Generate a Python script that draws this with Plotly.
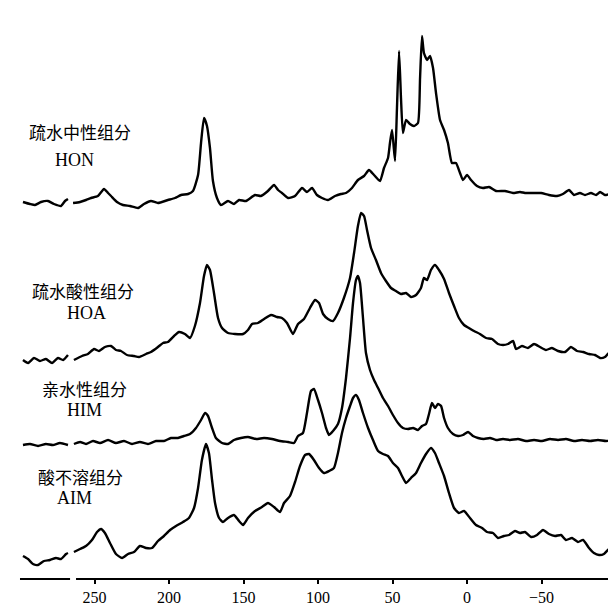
import plotly.graph_objects as go

# ---------------- data (chemical shift δ in ppm, intensity above own baseline) -------------
hon_ppm = [298.0, 293.3, 289.9, 285.9, 281.2, 277.2, 272.5, 269.8, 267.8,
           264.4, 259.7, 255.7, 252.3, 247.7, 243.6, 240.9, 238.9, 234.9, 230.9, 226.2, 220.8,
           216.8, 212.1, 207.4, 200.7, 196.0, 191.9, 187.2, 183.9, 180.5, 178.5, 176.5, 174.5,
           172.5, 170.5, 167.8, 165.1, 160.4, 156.4, 153.0, 148.3, 142.3, 138.3, 133.6, 129.5,
           126.8, 124.2, 120.1, 115.4, 110.7, 107.4, 104.0, 100.7, 97.3, 93.3, 88.6, 84.6, 81.2,
           77.2, 73.2, 69.1, 65.8, 62.4, 58.4, 55.7, 53.0, 51.7, 50.3, 48.3, 47.0, 45.6, 44.3,
           43.0, 40.9, 38.3, 35.6, 32.9, 31.5, 30.2, 28.9, 26.8, 24.8, 22.8, 20.8, 18.1, 15.4,
           12.8, 10.1, 7.4, 4.7, 2.7, 0.0, -2.7, -6.7, -10.7, -14.8, -19.5, -25.5, -30.9, -35.6,
           -38.9, -44.3, -49.7, -55.0, -60.4, -64.4, -68.5, -71.8, -75.8, -79.2, -83.2, -86.6,
           -89.3, -92.6, -96.0, -98.7]
hon_int = [1, -1, -2, 1, 2, -1, -3, 2, 4,
           0, 1, 3, 5, 7, 14, 10, 7, 1, -2, -3, -5,
           -1, 2, 0, 3, 5, 8, 9, 12, 28, 60, 85, 77,
           55, 22, 5, -2, 2, -1, 3, 2, 8, 7, 12, 18,
           13, 10, 5, 7, 15, 11, 15, 8, 5, 3, 7, 9, 10,
           15, 23, 27, 33, 28, 22, 35, 45, 60, 73, 42, 95, 152, 105,
           70, 83, 79, 77, 80, 125, 167, 150, 143, 147, 135, 110, 83, 73,
           60, 40, 40, 30, 23, 28, 23, 17, 15, 16, 12, 12, 10, 11,
           10, 10, 10, 8, 7, 9, 13, 8, 10, 8, 10, 8,
           11, 8, 9, 9]

hoa_ppm = [298.0, 294.6, 290.6, 286.6, 282.6, 278.5, 274.5, 271.1, 267.8,
           263.8, 258.4, 254.4, 250.3, 247.0, 243.0, 238.9, 235.6, 232.2, 228.2, 223.5, 220.1,
           215.4, 212.1, 207.4, 204.0, 200.7, 196.6, 193.3, 189.3, 185.9, 182.6, 179.2, 176.5,
           174.5, 172.5, 169.8, 167.1, 164.4, 160.4, 155.7, 150.3, 147.0, 144.3, 140.3, 136.2,
           131.5, 127.5, 124.2, 120.8, 116.8, 113.4, 109.4, 105.4, 102.0, 99.3, 96.6, 93.3,
           89.9, 86.6, 82.6, 78.5, 75.8, 73.2, 71.1, 69.1, 67.1, 64.4, 61.1, 57.7, 54.4, 51.0,
           47.7, 44.3, 40.9, 37.6, 34.2, 30.9, 28.9, 26.8, 24.2, 21.5, 18.8, 15.4, 12.1, 8.7,
           5.4, 2.0, -1.3, -4.7, -8.7, -12.8, -16.8, -20.8, -24.2, -27.5, -30.9, -32.9, -36.9,
           -40.9, -45.0, -49.0, -53.0, -57.0, -61.1, -65.8, -69.8, -73.8, -77.9, -81.9, -85.9,
           -89.3, -92.6, -95.3, -98.7]
hoa_int = [-2, -5, 0, -3, -1, -5, 0, -2, 3,
           -2, 2, 4, 9, 7, 11, 12, 8, 7, 3, 2, 1,
           4, 6, 11, 15, 16, 22, 26, 24, 20, 32, 55, 82,
           93, 88, 65, 40, 30, 25, 24, 24, 28, 34, 35, 39,
           43, 41, 40, 35, 24, 34, 39, 50, 58, 55, 44, 39,
           37, 45, 60, 80, 105, 132, 145, 142, 128, 110, 98, 85, 77, 70,
           67, 64, 65, 61, 63, 70, 80, 78, 88, 93, 88, 79, 65, 52,
           40, 33, 30, 27, 24, 20, 19, 14, 13, 14, 17, 9, 12,
           10, 14, 11, 8, 10, 7, 6, 11, 7, 6, 4, 3,
           0, 1, 5, 3]

him_ppm = [298.0, 293.3, 287.9, 282.6, 277.9, 273.2, 267.8,
           263.8, 259.7, 255.7, 251.0, 246.3, 240.9, 235.6, 230.2, 224.8, 219.5, 214.1, 208.7,
           203.4, 198.7, 194.0, 190.0, 185.9, 181.9, 178.5, 175.8, 173.8, 171.1, 168.5, 164.4,
           160.4, 156.4, 151.7, 147.0, 141.6, 136.2, 130.9, 125.5, 120.1, 116.1, 113.4, 110.1,
           107.4, 104.7, 102.7, 100.0, 97.3, 94.6, 92.6, 89.9, 86.6, 83.9, 81.2, 78.5, 76.5,
           74.5, 73.2, 71.8, 69.8, 67.8, 65.1, 62.4, 59.7, 56.4, 53.0, 49.7, 46.3, 43.0, 39.6,
           36.2, 32.9, 30.2, 27.5, 25.5, 23.5, 21.5, 19.5, 17.4, 15.4, 12.8, 9.4, 6.0, 2.7,
           -0.7, -4.0, -7.4, -11.4, -15.4, -19.5, -24.2, -28.9, -34.2, -39.6, -45.0, -50.3,
           -55.7, -61.1, -66.4, -71.8, -77.2, -82.6, -87.9, -93.3, -98.7]
him_int = [0, 1, -1, 1, 0, 2, 0,
           1, 3, 1, 4, 2, 5, 2, 4, 1, 3, 1, 4,
           4, 7, 7, 9, 11, 17, 25, 32, 29, 17, 7, 2,
           1, 5, 7, 8, 6, 7, 6, 4, 3, 2, 9, 12,
           32, 54, 56, 45, 32, 17, 10, 14, 21, 37, 67, 107, 142,
           165, 169, 162, 127, 92, 75, 65, 57, 47, 39, 30, 22, 17, 16,
           17, 15, 19, 21, 31, 42, 37, 41, 39, 27, 17, 11, 9, 10,
           13, 9, 7, 6, 7, 5, 6, 5, 6, 4, 5, 4,
           6, 5, 6, 4, 5, 4, 5, 4, 5]

aim_ppm = [298.0, 294.6, 291.3, 287.9, 283.9, 279.9, 275.8, 272.5, 269.1, 267.8,
           263.8, 259.7, 255.7, 251.7, 248.3, 245.6, 243.0, 239.6, 235.6, 231.5, 227.5, 223.5,
           219.5, 215.4, 211.4, 207.4, 203.4, 199.3, 195.3, 190.6, 186.6, 183.2, 180.5, 177.9,
           175.2, 173.2, 171.1, 169.1, 166.4, 163.8, 160.4, 156.4, 153.0, 150.3, 147.0, 142.3,
           137.6, 133.6, 129.5, 125.5, 122.8, 118.8, 115.4, 112.1, 108.7, 106.0, 102.7, 99.3,
           96.0, 92.6, 89.3, 86.6, 83.9, 81.2, 78.5, 76.5, 74.5, 72.5, 69.8, 66.4, 63.1, 59.7,
           56.4, 53.0, 49.7, 46.3, 43.6, 40.9, 37.6, 34.2, 30.9, 27.5, 24.2, 21.5, 18.8, 15.4,
           12.1, 8.7, 5.4, 2.0, -2.0, -6.0, -10.1, -13.4, -17.4, -20.8, -24.8, -28.2, -32.2,
           -35.6, -38.9, -43.0, -47.0, -51.0, -55.0, -59.1, -63.1, -66.4, -70.5, -74.5, -77.9,
           -81.9, -85.2, -88.6, -91.9, -95.3, -98.7]
aim_int = [2, -1, -6, -7, -3, -2, 0, -1, 4, 5,
           6, 9, 12, 18, 26, 29, 25, 15, 4, 0, 4, 6,
           12, 10, 10, 17, 22, 28, 32, 36, 40, 50, 70, 98,
           114, 105, 78, 55, 40, 36, 40, 43, 37, 33, 40, 47,
           51, 55, 51, 46, 55, 62, 76, 92, 103, 104, 98, 90,
           85, 87, 90, 105, 125, 140, 152, 160, 163, 158, 145, 130, 118, 107,
           104, 102, 95, 90, 82, 75, 80, 85, 95, 104, 110, 105, 95, 82,
           65, 50, 45, 47, 40, 33, 30, 26, 25, 20, 22, 23, 27,
           25, 26, 21, 23, 28, 24, 22, 23, 18, 20, 16, 18,
           10, 5, 3, 4, 9, 9]

fractions = ["HON", "HOA", "HIM", "AIM"]
names_cn = ["疏水中性组分", "疏水酸性组分", "亲水性组分", "酸不溶组分"]
tick_vals = [250, 200, 150, 100, 50, 0, -50]
tick_text = ["250", "200", "150", "100", "50", "0", "−50"]

# ---------------- layout constants ----------------
offsets = {"HON": 376, "HOA": 221, "HIM": 134, "AIM": 21}
BREAK_HI, BREAK_LO = 266.4, 262.4   # axis break on the δ scale


def with_break(ppm, vals):
    xs, ys = [], []
    for i, (p, v) in enumerate(zip(ppm, vals)):
        if i > 0 and ppm[i - 1] > BREAK_HI - 1 and p < BREAK_HI - 1:
            xs.append(None)
            ys.append(None)
        xs.append(p)
        ys.append(v)
    return xs, ys


series = {"HON": (hon_ppm, hon_int), "HOA": (hoa_ppm, hoa_int),
          "HIM": (him_ppm, him_int), "AIM": (aim_ppm, aim_int)}

fig = go.Figure()
for key in fractions:
    p, v = series[key]
    xs, ys = with_break(p, v)
    ys = [None if y is None else y + offsets[key] for y in ys]
    fig.add_trace(go.Scatter(x=xs, y=ys, mode="lines", connectgaps=False,
                             line=dict(color="black", width=2.4, shape="spline",
                                       smoothing=0.5),
                             showlegend=False, hoverinfo="skip"))

# labels (x in ppm, y in plot units)
label_pos = {"HON": (259.7, 448, 263.1, 419), "HOA": (257.7, 289, 255.7, 266),
             "HIM": (256.4, 191, 256.4, 169), "AIM": (259.1, 103, 263.1, 81)}
for key, cn in zip(fractions, names_cn):
    x1, y1, x2, y2 = label_pos[key]
    fig.add_annotation(x=x1, y=y1, xref="x", yref="y", text=cn, showarrow=False,
                       font=dict(family="Noto Sans CJK SC", size=17, color="black"))
    fig.add_annotation(x=x2, y=y2, xref="x", yref="y", text=key, showarrow=False,
                       font=dict(family="Liberation Serif", size=18, color="black"))

fig.add_annotation(x=285.9, y=-25, xref="x", yref="y", text="δ", showarrow=False,
                   font=dict(family="Liberation Serif", size=15, color="black"))

# broken axis line
fig.add_shape(type="line", xref="x", yref="paper", x0=300, x1=BREAK_HI, y0=0, y1=0,
              line=dict(color="black", width=2))
fig.add_shape(type="line", xref="x", yref="paper", x0=BREAK_LO, x1=-100, y0=0, y1=0,
              line=dict(color="black", width=2))

fig.update_layout(
    width=616, height=605,
    margin=dict(l=0, r=0, t=0, b=34),
    paper_bgcolor="white", plot_bgcolor="white",
    xaxis=dict(range=[308.05, -105.37], showgrid=False, zeroline=False, showline=False,
               ticks="outside", ticklen=4, tickwidth=2, tickcolor="black",
               tickvals=tick_vals, ticktext=tick_text,
               tickfont=dict(family="Liberation Serif", size=16, color="black")),
    yaxis=dict(range=[0, 571], visible=False, showgrid=False, zeroline=False),
)

fig.write_html("out.html")
